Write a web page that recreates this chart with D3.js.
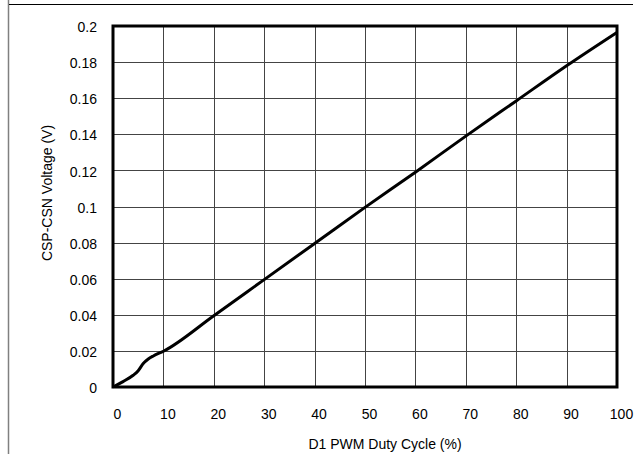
<!DOCTYPE html>
<html>
<head>
<meta charset="utf-8">
<script src="https://cdn.jsdelivr.net/npm/d3@7"></script>
<style>
  body { margin: 0; background: #fff; }
  text { font-family: "Liberation Sans", Arial, sans-serif; fill: #000; }
</style>
</head>
<body>
<svg id="chart" width="641" height="454"></svg>
<script>
// duty cycle (%) vs CSP-CSN voltage (V)
var duty = [0, 2, 4, 5, 6, 7, 8, 10, 20, 30, 40, 50, 60, 70, 80, 90, 100];
var volts = [0, 0.003, 0.0065, 0.009, 0.013, 0.0155, 0.0172, 0.0198, 0.0395, 0.0595, 0.0795, 0.0995, 0.119, 0.139, 0.1585, 0.178, 0.1965];
var xTicks = [0, 10, 20, 30, 40, 50, 60, 70, 80, 90, 100];
var yTicks = [0, 0.02, 0.04, 0.06, 0.08, 0.1, 0.12, 0.14, 0.16, 0.18, 0.2];

var svg = d3.select("#chart");
// note: "top" is reserved on window, so use plot* names
var plotL = 113, plotR = 617, plotT = 26, plotB = 387;
var fs = "14px";

var x = d3.scaleLinear().domain([0, 100]).range([plotL, plotR]);
var y = d3.scaleLinear().domain([0, 0.2]).range([plotB, plotT]);

// outer frame (top and left edges only)
svg.append("line").attr("x1", 8.5).attr("x2", 8.5).attr("y1", 0).attr("y2", 454)
  .attr("stroke", "#808080").attr("stroke-width", 1.5);
svg.append("line").attr("x1", 9).attr("x2", 633).attr("y1", 4.5).attr("y2", 4.5)
  .attr("stroke", "#000").attr("stroke-width", 1.2);

// grid
var grid = svg.append("g");
grid.selectAll(".vg").data(xTicks).enter().append("line")
  .attr("x1", d => Math.round(x(d)) + 0.5).attr("x2", d => Math.round(x(d)) + 0.5)
  .attr("y1", plotT).attr("y2", plotB)
  .attr("stroke", "#444").attr("stroke-width", 1);
grid.selectAll(".hg").data(yTicks).enter().append("line")
  .attr("y1", d => Math.round(y(d)) + 0.5).attr("y2", d => Math.round(y(d)) + 0.5)
  .attr("x1", plotL).attr("x2", plotR)
  .attr("stroke", "#444").attr("stroke-width", 1);

// axes (tick labels only)
var xAxis = svg.append("g").attr("transform", "translate(0," + plotB + ")")
  .call(d3.axisBottom(x).tickValues(xTicks).tickSize(0).tickPadding(22).tickFormat(d3.format("d")));
var yAxis = svg.append("g").attr("transform", "translate(" + plotL + ",0)")
  .call(d3.axisLeft(y).tickValues(yTicks).tickSize(0).tickPadding(16).tickFormat(d => d === 0 ? "0" : String(+d.toFixed(2))));
[xAxis, yAxis].forEach(function (a) {
  a.select(".domain").remove();
  a.selectAll("text").style("font-size", fs).style("font-family", "Liberation Sans, Arial, sans-serif");
});
xAxis.selectAll("text").attr("dx", 4);
yAxis.selectAll("text").attr("dy", "0.4em");

// plot frame
svg.append("rect").attr("x", plotL).attr("y", plotT)
  .attr("width", plotR - plotL).attr("height", plotB - plotT)
  .attr("fill", "none").attr("stroke", "#000").attr("stroke-width", 3);

// data line
var pts = duty.map((d, i) => [d, volts[i]]);
svg.append("path").datum(pts)
  .attr("fill", "none").attr("stroke", "#000").attr("stroke-width", 3)
  .attr("stroke-linejoin", "round")
  .attr("d", d3.line().x(d => x(d[0])).y(d => y(d[1])).curve(d3.curveMonotoneX));

// titles
svg.append("text").attr("x", 385).attr("y", 449).attr("text-anchor", "middle")
  .style("font-size", fs).text("D1 PWM Duty Cycle (%)");
svg.append("text").attr("transform", "translate(52,193) rotate(-90)").attr("text-anchor", "middle")
  .style("font-size", fs).text("CSP-CSN Voltage (V)");
</script>
</body>
</html>
